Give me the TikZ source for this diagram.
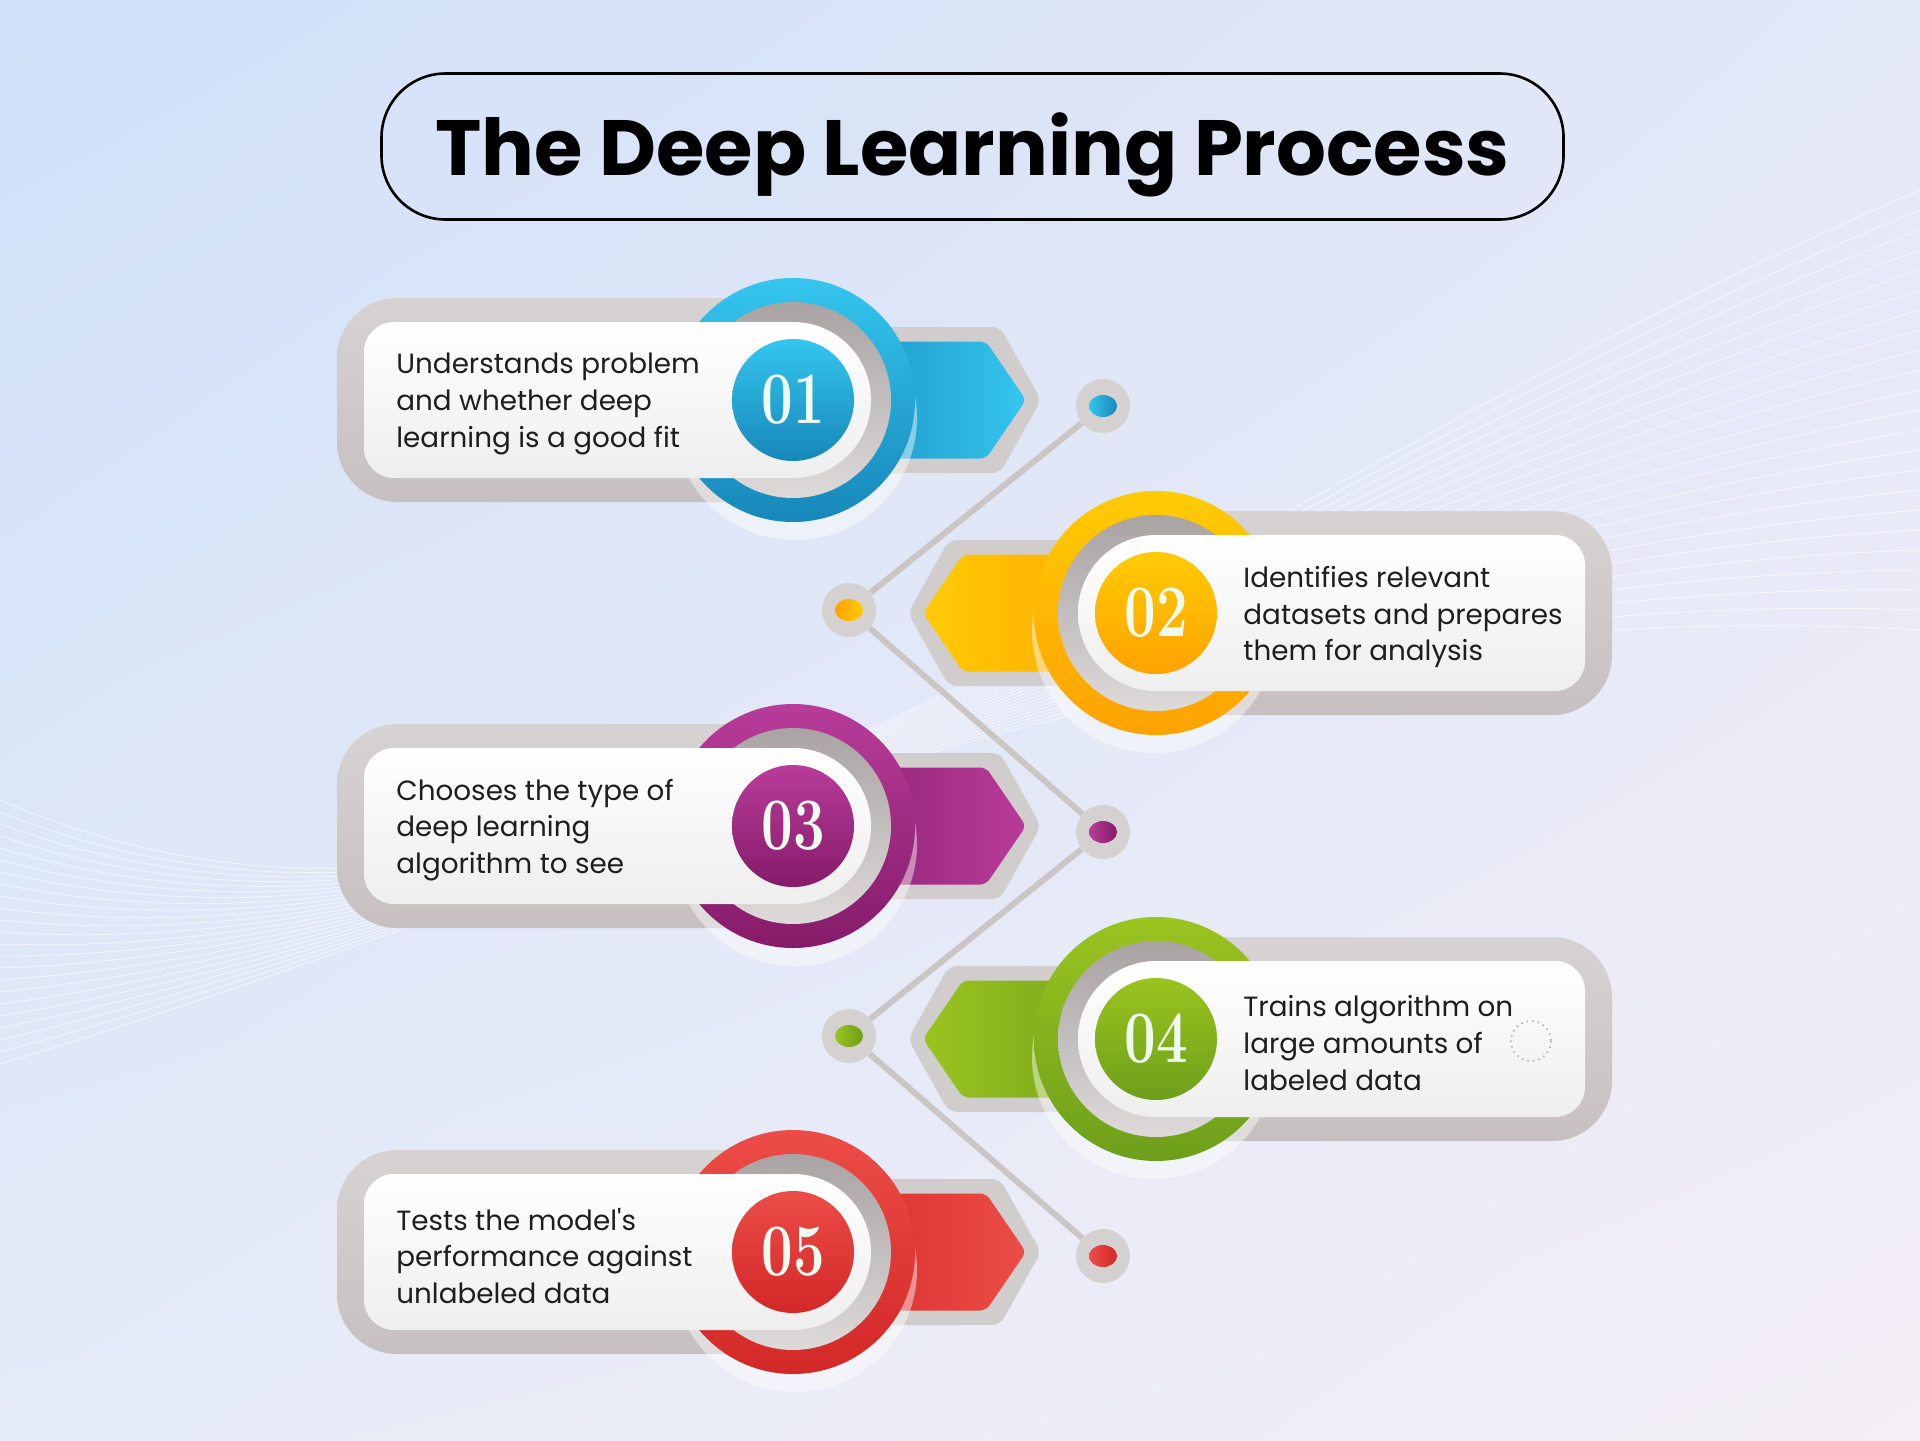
\documentclass[tikz,border=0pt]{standalone}
\usepackage{fontspec}
\usepackage{graphicx}
\newfontfamily\popfont{Poppins}
\newfontfamily\numfont{Latin Modern Roman}
\usetikzlibrary{shadings}

\definecolor{bgA}{HTML}{D0E0F8}
\definecolor{bgB}{HTML}{E3E8F7}
\definecolor{bgC}{HTML}{E4EBF7}
\definecolor{bgD}{HTML}{F4EEF6}
\definecolor{blueL}{HTML}{34C6EE}
\definecolor{blueD}{HTML}{1787BA}
\definecolor{yelL}{HTML}{FFCB05}
\definecolor{yelD}{HTML}{FFA200}
\definecolor{magL}{HTML}{B83C9A}
\definecolor{magD}{HTML}{861B69}
\definecolor{grnL}{HTML}{9AC41F}
\definecolor{grnD}{HTML}{6E9F1B}
\definecolor{redL}{HTML}{EC4C47}
\definecolor{redD}{HTML}{D32828}
\definecolor{pillA}{HTML}{D8D3D3}
\definecolor{pillB}{HTML}{C6C0C0}
\definecolor{pillW}{HTML}{EEEEEE}
\definecolor{ringA}{HTML}{A9A3A3}
\definecolor{ringB}{HTML}{DEDADA}
\definecolor{framegrey}{HTML}{D2CDCD}
\definecolor{linkgrey}{HTML}{CBC5C5}
\definecolor{dotgrey}{HTML}{D6D1D1}
\definecolor{numwhite}{HTML}{EFFBF0}
\definecolor{txtblack}{HTML}{1E1E1E}

\tikzset{
  wave/.style={white, opacity=0.6, line width=0.4pt},
  titlebox/.style={draw=black, line width=1.3pt, rounded corners=32pt,
    minimum width=591pt, minimum height=73pt, inner sep=0pt},
  link/.style={draw=linkgrey, line width=3pt},
  dot/.style={circle, fill=dotgrey, minimum size=27pt, inner sep=0pt},
  steptxt/.style={anchor=west, align=left, text=txtblack, inner sep=0pt,
    font=\popfont\fontsize{13.9}{18.4}\selectfont},
  numtxt/.style={text=numwhite, inner sep=0pt,
    font=\numfont\bfseries\fontsize{37}{37}\selectfont},
}

\begin{document}
\begin{tikzpicture}[x=0.5pt, y=-0.5pt]
  \useasboundingbox (0,0) rectangle (1920,1440);
  \shade[upper left=bgA, upper right=bgB, lower left=bgC, lower right=bgD]
    (0,0) rectangle (1920,1440);

  % mesh in the background
  \foreach \i in {0,...,22}
    \draw[wave] (0,{800+\i*12}) .. controls (600,{1060-\i*8}) and (1150,{520+\i*3}) .. (1920,{190+\i*20});

  % title
  \node[titlebox] (title) at (972.5,146.5) {};
  \node (titletext) at ([yshift=-4pt]title.center)
    {\resizebox{537pt}{!}{\popfont\bfseries The Deep Learning Process}};

  % dots and links
  \node[dot] (d1) at (1103,406) {};
  \node[dot] (d2) at (849,610) {};
  \node[dot] (d3) at (1103,832) {};
  \node[dot] (d4) at (849,1036) {};
  \node[dot] (d5) at (1103,1256) {};
  \draw[link] (d1) -- (d2) -- (d3) -- (d4) -- (d5);
  \foreach \d/\lc/\dc in {d1/blueL/blueD, d2/yelD/yelL, d3/magL/magD, d4/grnL/grnD, d5/redL/redD}
    \shade[left color=\lc, right color=\dc] (\d.center) ellipse [x radius=14, y radius=11];

  % the five steps
  \foreach \n/\y/\s/\lc/\dc/\ta/\tb in {01/400/1/blueL/blueD/blueD/blueL,
      02/613/-1/yelL/yelD/yelL/yelD, 03/826/1/magL/magD/magD/magL,
      04/1039/-1/grnL/grnD/grnL/grnD, 05/1252/1/redL/redD/redD/redL}{
    \begin{scope}[shift={(974.5,\y)}, xscale=\s]
      \shade[top color=pillA, bottom color=pillB, rounded corners=30pt]
        (-637.5,-102) rectangle (-181.5,102);
      \fill[framegrey, rounded corners=4pt]
        (-181.5,-73) -- (25.5,-73) -- (66.5,0) -- (25.5,73) -- (-181.5,73) -- cycle;
      \shade[left color=\ta, right color=\tb, rounded corners=3pt]
        (-181.5,-58.5) -- (11.5,-58.5) -- (51.5,0) -- (11.5,58.5) -- (-181.5,58.5) -- cycle;
      \fill[white, opacity=0.45] (-179.5,18) circle (122);
      \shade[top color=\lc, bottom color=\dc] (-181.5,0) circle (122);
      \shade[top color=ringA, bottom color=ringB] (-181.5,0) circle (98);
      \shade[top color=white, bottom color=pillW]
        (-181.5,-78) -- (-580.5,-78) arc[start angle=-90, end angle=-180, radius=30]
        -- (-610.5,48) arc[start angle=180, end angle=90, radius=30]
        -- (-181.5,78) arc[start angle=90, end angle=-90, radius=78] -- cycle;
      \shade[top color=\lc, bottom color=\dc] (-181.5,0) circle (61);
    \end{scope}
    \node[numtxt] (num\n) at ({974.5-181.5*\s},\y) {\scalebox{0.76}[1]{\n}};
  }

  \node[steptxt] (t1) at (396,404) {Understands problem\\and whether deep\\learning is a good fit};
  \node[steptxt] (t2) at (1243,617) {Identifies relevant\\datasets and prepares\\them for analysis};
  \node[steptxt] (t3) at (396,830) {Chooses the type of\\deep learning\\algorithm to see};
  \node[steptxt] (t4) at (1243,1043) {Trains algorithm on\\large amounts of\\labeled data};
  \node[steptxt] (t5) at (396,1256) {Tests the model's\\performance against\\unlabeled data};

  \draw[dotted, gray!60, line width=0.8pt] (1531,1041) circle (20);
\end{tikzpicture}
\end{document}
